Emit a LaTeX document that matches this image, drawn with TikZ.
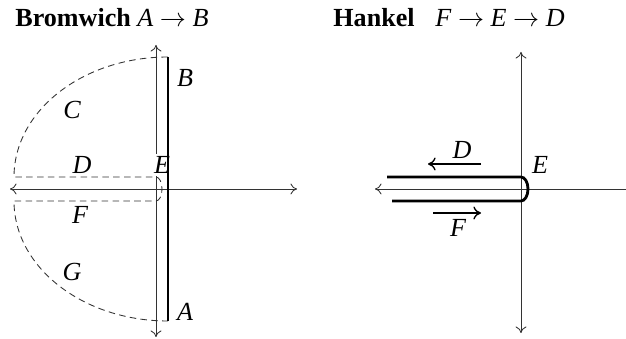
\documentclass[tikz,border=0pt,12pt]{standalone}
\usepackage{fontspec}
\setmainfont{Liberation Serif}
\usetikzlibrary{positioning,arrows.meta}

\begin{document}
\begin{tikzpicture}[
    x=0.46pt, y=0.46pt,
    axis/.style={thin, black!80, {To[length=3pt,width=5pt]}-{To[length=3pt,width=5pt]}},
    contour/.style={line width=1.3pt},
    guide/.style={densely dashed, thin, black!80},
    dirarrow/.style={-{To[length=3.5pt,width=6pt]}, semithick},
    lbl/.style={font=\itshape, inner sep=1pt},
]
    \useasboundingbox (0,0) rectangle (626,339);

    % Bromwich
    \node[anchor=base west, inner sep=0pt] (titleB) at (15,312) {\textbf{Bromwich} \textit{A} $\rightarrow$ \textit{B}};
    \coordinate (bt) at (156,294);
    \coordinate (bb) at (156,2);
    \coordinate (bl) at (10,150);
    \coordinate (br) at (297,150);
    \draw[axis] (bb) -- (bt);
    \draw[axis] (bl) -- (br);

    % Closing loop
    \coordinate (ctop) at (168,282);
    \coordinate (cbot) at (168,18);
    \draw[guide] (ctop) arc[start angle=90, end angle=180, x radius=154, y radius=120]
        -- (156,162) arc[start angle=90, end angle=-90, x radius=6, y radius=12]
        -- (14,138) arc[start angle=180, end angle=270, x radius=154, y radius=120];

    \node[lbl] (lB) at (185,261) {B};
    \node[lbl] (lC) at (72,229) {C};
    \node[lbl] (lD) at (82,174) {D};
    \node[lbl, fill=white] (lE) at (162,174) {E};
    \node[lbl] (lF) at (80,124) {F};
    \node[lbl] (lG) at (72,67) {G};
    \node[lbl] (lA) at (185,27) {A};

    \draw[contour] (cbot) -- (ctop);

    % Hankel
    \node[anchor=base west, inner sep=0pt] (titleH) at (333,312) {\textbf{Hankel}};
    \node[anchor=base west, inner sep=0pt] (orderH) at (435,312) {\textit{F} $\rightarrow$ \textit{E} $\rightarrow$ \textit{D}};
    \coordinate (ht) at (521,287);
    \coordinate (hb) at (521,6);
    \coordinate (hl) at (375,150);
    \coordinate (hr) at (626,150);
    \draw[axis] (hb) -- (ht);
    \draw[thin, black!80, {To[length=3pt,width=5pt]}-] (hl) -- (hr);

    % Keyhole
    \coordinate (kup) at (387,162);
    \coordinate (klow) at (392,138);
    \draw[contour] (kup) -- (521,162) arc[start angle=90, end angle=-90, x radius=7, y radius=12] -- (klow);

    \coordinate (dfrom) at (481,175);
    \coordinate (dto) at (428,175);
    \coordinate (ffrom) at (433,126);
    \coordinate (fto) at (481,126);
    \draw[dirarrow] (dfrom) -- (dto);
    \draw[dirarrow] (ffrom) -- (fto);

    \node[lbl] (hD) at (462,189) {D};
    \node[lbl] (hF) at (458,111) {F};
    \node[lbl] (hE) at (540,174) {E};
\end{tikzpicture}
\end{document}
